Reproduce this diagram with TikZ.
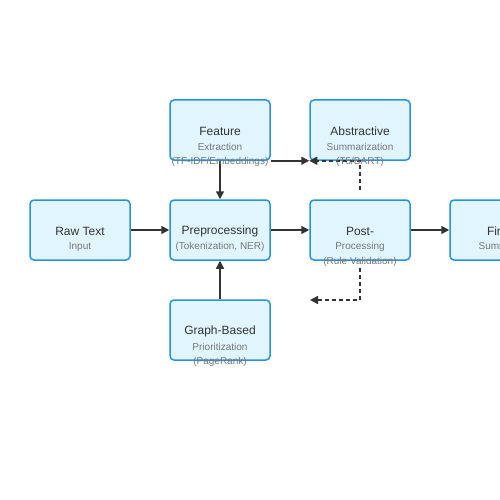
\documentclass[tikz,border=0pt]{standalone}
\usepackage{fontspec}
\setmainfont{Liberation Sans}
\usetikzlibrary{arrows.meta}
\definecolor{boxfill}{HTML}{E1F5FE}
\definecolor{boxline}{HTML}{2A93D5}
\definecolor{titlecol}{HTML}{333333}
\definecolor{subcol}{HTML}{777777}
\definecolor{arrcol}{HTML}{333333}
\tikzset{
  stagebox/.style={draw=boxline, fill=boxfill, line width=1.5pt, rounded corners=4pt,
    minimum width=100pt, minimum height=60pt, inner sep=0pt},
  titletext/.style={text=titlecol, font=\fontsize{12}{14}\selectfont, inner sep=0pt},
  subtext/.style={text=subcol, font=\fontsize{10}{12}\selectfont, inner sep=0pt},
  flow/.style={draw=arrcol, line width=1.5pt, -{Triangle[length=8pt,width=8pt]}},
  dflow/.style={draw=arrcol, line width=1.5pt, dash pattern=on 4pt off 3pt, -{Triangle[length=8pt,width=8pt]}},
}
\begin{document}
\begin{tikzpicture}[x=1pt,y=-1pt]
\path[use as bounding box, clip] (0,0) rectangle (500,500);
\fill[white] (0,0) rectangle (500,500);
% boxes
\node[stagebox] (raw) at (80,230) {};
\node[stagebox] (pre) at (220,230) {};
\node[stagebox] (post) at (360,230) {};
\node[stagebox] (fin) at (500,230) {};
\node[stagebox] (feat) at (220,130) {};
\node[stagebox] (abs) at (360,130) {};
\node[stagebox] (graph) at (220,330) {};
% connectors
\draw[flow] (raw.east) -- (pre.west);
\draw[flow] (pre.east) -- (post.west);
\draw[flow] (post.east) -- (fin.west);
\draw[flow] (feat.south) -- (pre.north);
\draw[flow] (graph.north) -- (pre.south);
\draw[flow] (feat.south east) -- (abs.south west);
\coordinate (d1) at (360,190);
\coordinate (d2) at (360,268);
\coordinate (d2e) at (310,300);
\draw[dflow] (d1) -- (abs.south) -- (abs.south west);
\draw[dflow] (d2) -- (360,300) -- (d2e);
% texts
\node[titletext] (rawT) at (80,231) {Raw Text};
\node[subtext] (rawS) at (80,247) {Input};
\node[titletext] (preT) at (220,231) {Preprocessing};
\node[subtext] (preS) at (220,247) {(Tokenization, NER)};
\node[titletext] (postT) at (360,231) {Post-};
\node[subtext] (postS) at (360,247) {Processing};
\node[subtext] (postS2) at (360,262) {(Rule Validation)};
\node[titletext] (finT) at (500,231) {Final};
\node[subtext] (finS) at (500,247) {Summary};
\node[titletext] (featT) at (220,131) {Feature};
\node[subtext] (featS) at (220,147) {Extraction};
\node[subtext] (featS2) at (220,162) {(TF-IDF/Embeddings)};
\node[titletext] (absT) at (360,131) {Abstractive};
\node[subtext] (absS) at (360,147) {Summarization};
\node[subtext] (absS2) at (360,162) {(T5/BART)};
\node[titletext] (graphT) at (220,331) {Graph-Based};
\node[subtext] (graphS) at (220,347) {Prioritization};
\node[subtext] (graphS2) at (220,362) {(PageRank)};
\end{tikzpicture}
\end{document}
